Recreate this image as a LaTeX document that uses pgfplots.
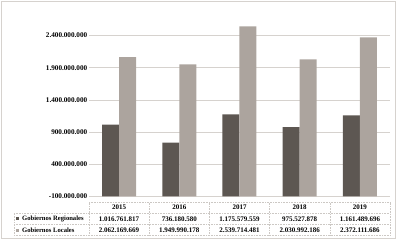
\documentclass[border=0pt]{standalone}
\usepackage{pgfplots}
\pgfplotsset{compat=1.18}
\usepackage{pgfplotstable}
\usepackage{fontspec}
\setmainfont{Liberation Serif}
\definecolor{reg}{HTML}{5D5752}
\definecolor{loc}{HTML}{ACA49E}
\definecolor{gridc}{HTML}{D6D2CE}
\definecolor{tabc}{HTML}{CCC8C4}
\pgfplotstableread{
x year reg loc
0 2015 1016761817 2062169669
1 2016 736180580 1949990178
2 2017 1175579559 2539714481
3 2018 975527878 2030992186
4 2019 1161489696 2372111686
}\data
\begin{document}
\begin{tikzpicture}[x=1pt,y=1pt]
\path[use as bounding box] (0,0) rectangle (397,241);
\draw[gridc,line width=0.6pt] (1.5,2.5) rectangle (395.5,240);
\begin{axis}[
  at={(89pt,44.5pt)}, anchor=south west,
  scale only axis, width=301pt, height=175.5pt,
  xmin=-0.5, xmax=4.5, ymin=0, ymax=2.725e9,
  axis line style={draw=none}, tick style={draw=none},
  xtick=\empty, scaled y ticks=false,
  ytick={0,5e8,1e9,1.5e9,2e9,2.5e9},
  yticklabels={-100.000.000,400.000.000,900.000.000,1.400.000.000,1.900.000.000,2.400.000.000},
  yticklabel style={font=\fontsize{7.2}{8}\selectfont\bfseries, inner sep=1.5pt},
  ymajorgrids, grid style={gridc, line width=0.6pt},
  clip=false,
]
\addplot[ybar, bar width=17pt, bar shift=-8.5pt, fill=reg, draw=none] table[x=x, y expr=\thisrow{reg}+100000000] {\data};
\addplot[ybar, bar width=17pt, bar shift=8.5pt, fill=loc, draw=none] table[x=x, y expr=\thisrow{loc}+100000000] {\data};
\end{axis}
% data table
\begin{scope}[tabc, line width=0.6pt, densely dotted]
\draw (89,39) -- (390,39);
\draw (14,28) -- (390,28);
\draw (14,16.5) -- (390,16.5);
\draw (14,5.5) -- (390,5.5);
\draw (14,5.5) -- (14,28);
\foreach \X in {89,149.2,209.4,269.6,329.8,390} \draw (\X,5.5) -- (\X,39);
\end{scope}
\fill[reg] (16,20.7) rectangle (19,23.7);
\fill[loc] (16,9.2) rectangle (19,12.2);
\begin{scope}[every node/.style={font=\fontsize{7}{8}\selectfont\bfseries, inner sep=0pt}]
\node[anchor=west,font=\fontsize{6.6}{8}\selectfont\bfseries] at (22,22.2) {Gobiernos Regionales};
\node[anchor=west,font=\fontsize{6.6}{8}\selectfont\bfseries] at (22,10.7) {Gobiernos Locales};
\foreach \y [count=\i from 0] in {2015,2016,2017,2018,2019}
  \node at (119.1+60.2*\i,33.5) {\y};
\foreach \v [count=\i from 0] in {1.016.761.817,736.180.580,1.175.579.559,975.527.878,1.161.489.696}
  \node at (119.1+60.2*\i,22.2) {\v};
\foreach \v [count=\i from 0] in {2.062.169.669,1.949.990.178,2.539.714.481,2.030.992.186,2.372.111.686}
  \node at (119.1+60.2*\i,10.7) {\v};
\end{scope}
\end{tikzpicture}
\end{document}
